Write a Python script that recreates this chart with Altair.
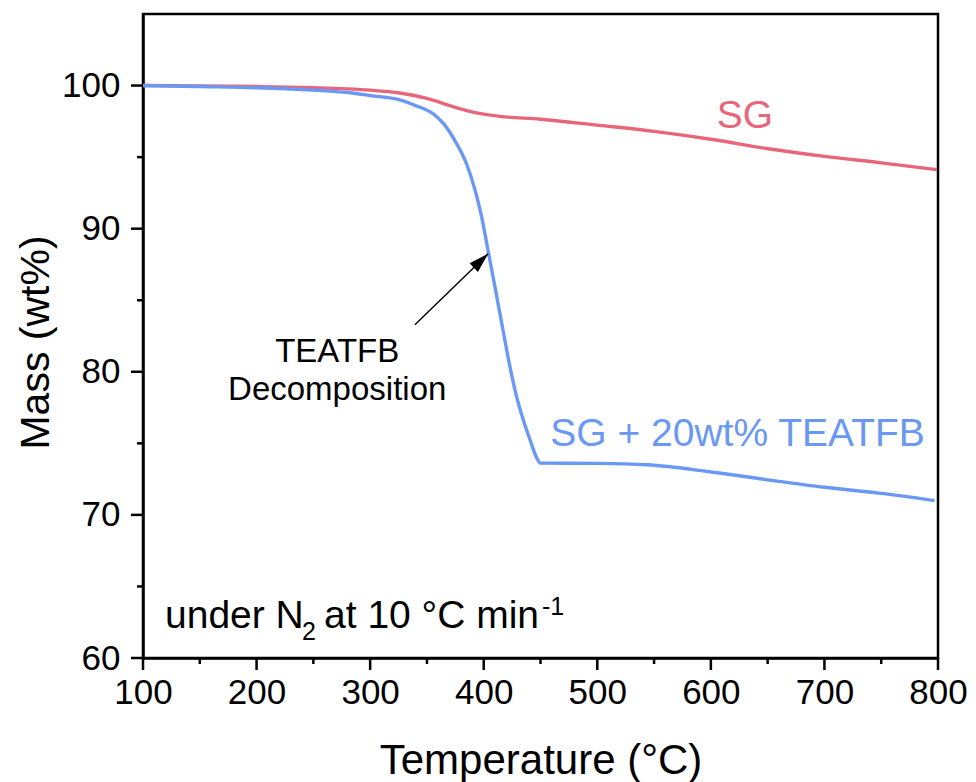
import altair as alt
import pandas as pd

# ---- TGA curves (temperature in °C, mass in wt%) ----
temp_sg = [100, 150, 200, 250, 280, 300, 326, 350, 370, 385, 400, 414, 450,
           502, 550, 600, 649, 700, 750, 799]
mass_sg = [100.0, 99.98, 99.93, 99.85, 99.77, 99.68, 99.48, 99.1, 98.6, 98.25,
           98.0, 97.85, 97.65, 97.22, 96.8, 96.25, 95.6, 95.05, 94.6, 94.12]

temp_mix = [100, 150, 200, 220, 250, 267, 282, 300, 326, 340, 355, 365, 375,
            385, 392, 398, 404, 410, 417, 423, 429, 435, 441, 446, 450,
            500, 544, 600, 650, 700, 750, 797]
mass_mix = [100.0, 99.93, 99.85, 99.79, 99.68, 99.6, 99.5, 99.3, 99.0, 98.6,
            98.05, 97.3, 96.1, 94.5, 92.8, 90.9, 88.4, 85.9, 82.9, 80.4,
            78.25, 76.6, 75.2, 74.1, 73.62, 73.6, 73.5, 73.0, 72.45, 71.93,
            71.5, 71.0]

# ---- axis ticks ----
x_major = [100, 200, 300, 400, 500, 600, 700, 800]
x_minor = [150, 250, 350, 450, 550, 650, 750]
y_major = [60, 70, 80, 90, 100]
y_minor = [65, 75, 85, 95]

# ---- annotation texts ----
series_labels = ["SG", "SG + 20wt% TEATFB"]
note_lines = ["TEATFB", "Decomposition"]
cond_parts = ["under N", "2", "at 10 °C min", "-1"]

FONT = "Liberation Sans"
RED = "#E8667A"
BLUE = "#6A98F2"

W, H = 795, 644            # plot area in pixels
X0, X1 = 100, 800          # temperature range
Y0, Y1 = 60, 105           # mass range
PX_PER_X = W / (X1 - X0)
PX_PER_Y = H / (Y1 - Y0)
MAJOR_LEN, MINOR_LEN = 12, 6

sg = pd.DataFrame({"T": temp_sg, "M": mass_sg})
mix = pd.DataFrame({"T": temp_mix, "M": mass_mix})

# tick tables: each tick runs from the axis line outward by its length
xt = pd.DataFrame({
    "T": x_major + x_minor,
    "a": [Y0] * (len(x_major) + len(x_minor)),
    "b": [Y0 - MAJOR_LEN / PX_PER_Y] * len(x_major) + [Y0 - MINOR_LEN / PX_PER_Y] * len(x_minor),
})
yt = pd.DataFrame({
    "M": y_major + y_minor,
    "a": [X0] * (len(y_major) + len(y_minor)),
    "b": [X0 - MAJOR_LEN / PX_PER_X] * len(y_major) + [X0 - MINOR_LEN / PX_PER_X] * len(y_minor),
})

xs = alt.Scale(domain=[X0, X1], nice=False, zero=False)
ys = alt.Scale(domain=[Y0, Y1], nice=False, zero=False)

x_axis = alt.Axis(values=x_major, format="d", title="Temperature (°C)",
                  grid=False, ticks=False, labelFlush=False, labelFont=FONT,
                  labelFontSize=35, labelColor="black", labelPadding=17,
                  domainWidth=2.5, domainColor="black",
                  titleFont=FONT, titleFontSize=42, titleFontWeight="normal",
                  titleColor="black", titleY=115, titleBaseline="alphabetic")
y_axis = alt.Axis(values=y_major, format="d", title="Mass (wt%)",
                  grid=False, ticks=False, labelFlush=False, labelFont=FONT,
                  labelFontSize=35, labelColor="black", labelPadding=23,
                  domainWidth=2.5, domainColor="black",
                  titleFont=FONT, titleFontSize=41, titleFontWeight="normal",
                  titleColor="black", titleX=-95, titleY=328,
                  titleBaseline="alphabetic")

sg_line = alt.Chart(sg).mark_line(color=RED, strokeWidth=3.4, interpolate="monotone").encode(
    x=alt.X("T:Q", scale=xs, axis=x_axis),
    y=alt.Y("M:Q", scale=ys, axis=y_axis),
)
mix_line = alt.Chart(mix).mark_line(color=BLUE, strokeWidth=3.4, interpolate="monotone").encode(
    x=alt.X("T:Q", scale=xs),
    y=alt.Y("M:Q", scale=ys),
)

x_ticks = alt.Chart(xt).mark_rule(color="black", strokeWidth=2.5).encode(
    x=alt.X("T:Q", scale=xs),
    y=alt.Y("a:Q", scale=ys),
    y2="b:Q",
)
y_ticks = alt.Chart(yt).mark_rule(color="black", strokeWidth=2.5).encode(
    y=alt.Y("M:Q", scale=ys),
    x=alt.X("a:Q", scale=xs),
    x2="b:Q",
)

# series labels
lab = pd.DataFrame({"T": [630, 623.5], "M": [97.06, 74.78],
                    "txt": series_labels, "c": [RED, BLUE]})
labels = alt.Chart(lab).mark_text(font=FONT, fontSize=39, align="center",
                                  baseline="alphabetic").encode(
    x=alt.X("T:Q", scale=xs),
    y=alt.Y("M:Q", scale=ys),
    text="txt:N",
    color=alt.Color("c:N", scale=None),
)

# decomposition note with arrow
note = pd.DataFrame({"T": [271, 271], "M": [80.7, 78.04], "txt": note_lines})
note_text = alt.Chart(note).mark_text(font=FONT, fontSize=33, align="center",
                                      baseline="alphabetic", color="black").encode(
    x=alt.X("T:Q", scale=xs),
    y=alt.Y("M:Q", scale=ys),
    text="txt:N",
)
arrow = pd.DataFrame({"T": [339.4], "M": [83.29], "T2": [403.9], "M2": [88.25]})
arrow_shaft = alt.Chart(arrow).mark_rule(color="black", strokeWidth=1.4).encode(
    x=alt.X("T:Q", scale=xs),
    y=alt.Y("M:Q", scale=ys),
    x2="T2:Q",
    y2="M2:Q",
)
arrow_head = alt.Chart(arrow).mark_point(
    shape="M0,0L-0.6,2L0.6,2Z", filled=True, color="black", size=400,
    angle=46, opacity=1,
).encode(
    x=alt.X("T2:Q", scale=xs),
    y=alt.Y("M2:Q", scale=ys),
)

# measurement conditions, with subscript and superscript pieces
cond = pd.DataFrame({
    "T": [119.4, 240.0, 259.4, 451.3],
    "M": [62.1, 61.26, 62.1, 63.0],
    "txt": cond_parts,
    "fs": [39, 25, 39, 25],
})
cond_text = alt.Chart(cond).mark_text(font=FONT, align="left", baseline="alphabetic",
                                      color="black").encode(
    x=alt.X("T:Q", scale=xs),
    y=alt.Y("M:Q", scale=ys),
    text="txt:N",
    size=alt.Size("fs:Q", scale=None, legend=None),
)

chart = alt.layer(
    sg_line, mix_line, x_ticks, y_ticks, labels, note_text, arrow_shaft,
    arrow_head, cond_text
).properties(
    width=W, height=H,
    padding={"left": 143, "top": 14, "right": 38, "bottom": 124},
    autosize=alt.AutoSizeParams(type="none"),
    background="white",
).configure_view(stroke="black", strokeWidth=2.5)

chart.save("out.html", embed_options={"renderer": "svg", "actions": False})
